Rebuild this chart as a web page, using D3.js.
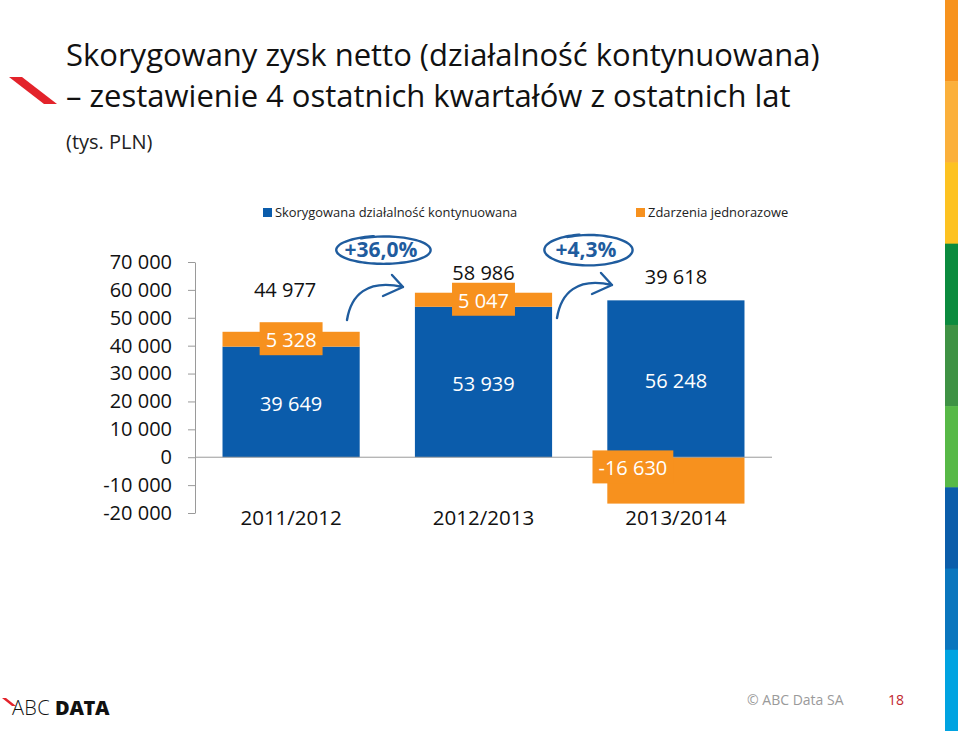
<!DOCTYPE html>
<html><head><meta charset="utf-8">
<script src="https://cdn.jsdelivr.net/npm/d3@7"></script>
<style>
html,body{margin:0;padding:0;background:#fff;}
svg{display:block;font-family:"Open Sans","Noto Sans",sans-serif;}
</style></head>
<body><svg id="c" width="959" height="731"></svg>
<script>
// ---- data ----
const categories = ["2011/2012", "2012/2013", "2013/2014"];
const coreValues = [39649, 53939, 56248];      // Skorygowana działalność kontynuowana
const oneOffValues = [5328, 5047, -16630];     // Zdarzenia jednorazowe
const totalValues = [44977, 58986, 39618];
const yTicks = [70000, 60000, 50000, 40000, 30000, 20000, 10000, 0, -10000, -20000];
const seriesNames = ["Skorygowana działalność kontynuowana", "Zdarzenia jednorazowe"];
const changeLabels = ["+36,0%", "+4,3%"];
const stripeColors = ["#F7931E","#FBB03B","#FDC221","#0B8B3E","#3E9244","#57B947","#0B5DAA","#0A76BE","#00A3E1"];

const BLUE = "#0B5CAB", ORANGE = "#F7911E", ANN = "#1F5C9E";
const svg = d3.select("#c");
const fmt = v => d3.format(",")(v).replace(/,/g, " ").replace("\u2212", "-");

// side stripe
const sy = d3.scaleBand().domain(d3.range(stripeColors.length)).range([0, 731]);
svg.selectAll("rect.stripe").data(stripeColors).join("rect")
  .attr("x", 945).attr("width", 13).attr("y", (d,i)=>sy(i)).attr("height", sy.bandwidth()+0.5).attr("fill", d=>d);

// title
svg.append("path").attr("d","M9,77 L22,77 L57,104 L44,104 Z").attr("fill","#E3232B");
svg.append("text").attr("x",66).attr("y",66).attr("font-size",31).attr("fill","#111")
  .text("Skorygowany zysk netto (działalność kontynuowana)");
svg.append("text").attr("x",66).attr("y",107).attr("font-size",31).attr("fill","#111")
  .text("– zestawienie 4 ostatnich kwartałów z ostatnich lat");
svg.append("text").attr("x",66).attr("y",149).attr("font-size",20).attr("fill","#222").text("(tys. PLN)");

// scales
const x = d3.scaleBand().domain(categories).range([195, 772]).paddingInner(0.287).paddingOuter(0.143);
const y = d3.scaleLinear().domain([-20000, 70000]).range([513, 262]);

// axis
const axis = d3.axisLeft(y).tickValues(yTicks).tickSize(7).tickSizeOuter(0).tickFormat(fmt).tickPadding(16);
const ag = svg.append("g").attr("transform","translate(195,0)").call(axis);
ag.select(".domain").attr("stroke","#9a9a9a");
ag.selectAll(".tick line").attr("stroke","#9a9a9a");
ag.selectAll(".tick text").attr("font-size",20).attr("fill","#111").attr("font-family","'Open Sans',sans-serif");

// bars
const rows = categories.map((c,i)=>({c, core: coreValues[i], one: oneOffValues[i], total: totalValues[i], i}));
svg.selectAll("rect.core").data(rows).join("rect").attr("class","core")
  .attr("x", d=>x(d.c)).attr("width", x.bandwidth())
  .attr("y", d=>y(Math.max(0,d.core))).attr("height", d=>Math.abs(y(d.core)-y(0))).attr("fill", BLUE);
svg.selectAll("rect.one").data(rows).join("rect").attr("class","one")
  .attr("x", d=>x(d.c)).attr("width", x.bandwidth())
  .attr("y", d=> d.one>=0 ? y(d.core+d.one) : y(0))
  .attr("height", d=> d.one>=0 ? y(d.core)-y(d.core+d.one) : y(d.one)-y(0)).attr("fill", ORANGE);

// zero line
svg.append("line").attr("x1",195).attr("x2",772).attr("y1",y(0)).attr("y2",y(0)).attr("stroke","#9a9a9a");

// core labels
svg.selectAll("text.coreL").data(rows).join("text")
  .attr("x", d=>x(d.c)+x.bandwidth()/2).attr("y", d=>y(d.core/2)+9)
  .attr("text-anchor","middle").attr("font-size",20).attr("fill","#fff").text(d=>fmt(d.core));

// one-off labels with orange boxes
const oneDx = [0, 0, -43], oneDy = [0, 0, -13];
rows.forEach(d=>{
  const mid = d.one>=0 ? y(d.core + d.one/2) : y(d.one/2);
  const cx = x(d.c)+x.bandwidth()/2 + oneDx[d.i];
  const cy = mid + oneDy[d.i];
  const t = svg.append("text").attr("x",cx).attr("y",cy+8).attr("text-anchor","middle")
    .attr("font-size",20).attr("fill","#fff").text(fmt(d.one));
  const bb = t.node().getBBox();
  svg.insert("rect", () => t.node()).attr("x", bb.x-6).attr("y", cy-17).attr("width", bb.width+12).attr("height", 33).attr("fill", ORANGE);
});

// total labels
const totDy = [-35, -13, -16];
svg.selectAll("text.tot").data(rows).join("text")
  .attr("x", d=>x(d.c)+x.bandwidth()/2 + (d.i===0?-6:0))
  .attr("y", d=>y(Math.max(d.total, d.core)) + totDy[d.i])
  .attr("text-anchor","middle").attr("font-size",20).attr("fill","#111").text(d=>fmt(d.total));

// category labels
svg.selectAll("text.cat").data(categories).join("text")
  .attr("x", d=>x(d)+x.bandwidth()/2).attr("y", 525).attr("text-anchor","middle")
  .attr("font-size",20.5).attr("fill","#111").text(d=>d);

// legend
const lg = [{n:seriesNames[0], c:BLUE, x:263},{n:seriesNames[1], c:ORANGE, x:636}];
lg.forEach(l=>{
  svg.append("rect").attr("x",l.x).attr("y",208).attr("width",9).attr("height",9).attr("fill",l.c);
  svg.append("text").attr("x",l.x+12).attr("y",217).attr("font-size",12.9).attr("fill","#222").text(l.n);
});

// annotations: change bubbles + arrows between bars
function annotate(cx, cy, rx, ry, label, from, tip){
  const pts = d3.range(0, 1.04, 0.02).map(t=>{
    const a = -2.1 + t*2*Math.PI*1.03;
    const k = 1 + 0.05*t;
    return [cx + rx*k*Math.cos(a), cy + ry*k*Math.sin(a)];
  });
  svg.append("path").attr("d", d3.line().curve(d3.curveBasis)(pts))
    .attr("fill","none").attr("stroke",ANN).attr("stroke-width",2.4).attr("stroke-linecap","round");
  svg.append("text").attr("x",cx-3).attr("y",cy+7).attr("text-anchor","middle")
    .attr("font-size",21).attr("font-weight","bold").attr("fill",ANN).text(label);
  const p = d3.path();
  p.moveTo(from[0], from[1]);
  p.bezierCurveTo(from[0]+4, from[1]-25, from[0]+20, tip[1]-8, tip[0], tip[1]);
  p.moveTo(tip[0]-11, tip[1]-12); p.lineTo(tip[0], tip[1]); p.lineTo(tip[0]-20, tip[1]+9);
  svg.append("path").attr("d", p.toString()).attr("fill","none").attr("stroke",ANN)
    .attr("stroke-width",2.4).attr("stroke-linecap","round").attr("stroke-linejoin","round");
}
annotate(384, 250, 46, 13.5, changeLabels[0], [347,320], [403,287]);
annotate(589, 250, 43, 15, changeLabels[1], [557,318], [612,285]);

// footer
svg.append("path").attr("d","M2,698 L6,698 L16,706 L12,706 Z").attr("fill","#E3232B");
svg.append("text").attr("x",12).attr("y",715).attr("font-size",20).attr("font-weight",300)
  .attr("font-family","'Open Sans',sans-serif").attr("fill","#111").attr("letter-spacing",0.3).text("ABC");
svg.append("text").attr("x",55).attr("y",715).attr("font-size",20).attr("font-weight",800)
  .attr("font-family","'Open Sans',sans-serif").attr("fill","#111").attr("letter-spacing",-0.3).text("DATA");
svg.append("text").attr("x",747).attr("y",705).attr("font-size",14).attr("fill","#9a9a9a").text("© ABC Data SA");
svg.append("text").attr("x",888).attr("y",705).attr("font-size",14).attr("fill","#C1272D").text("18");
</script></body></html>
